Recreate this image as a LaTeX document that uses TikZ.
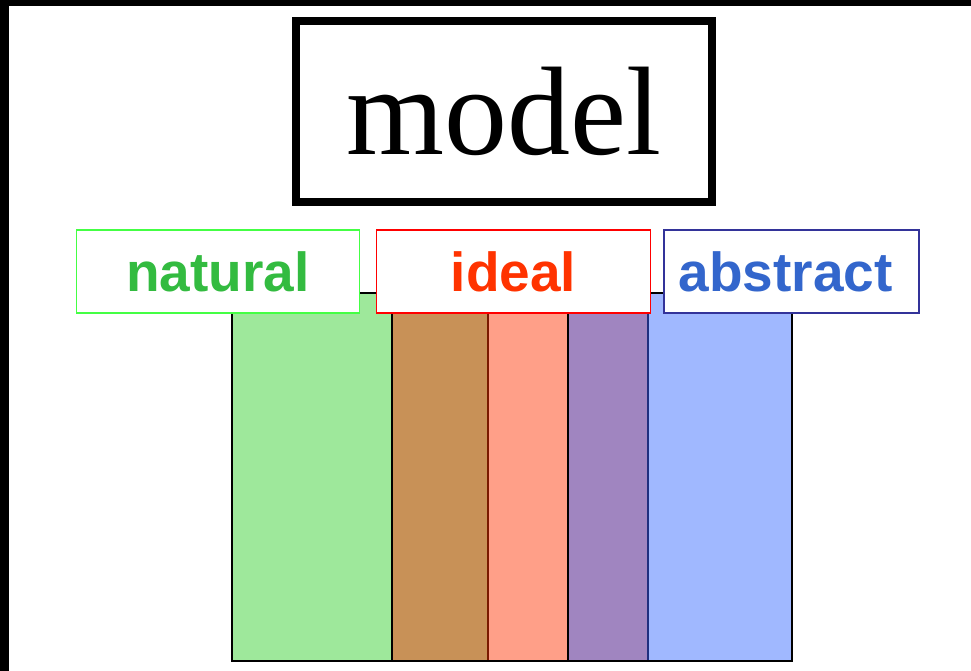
\documentclass[tikz,border=0pt]{standalone}
\usepackage{fontspec}
\setmainfont{Liberation Serif}
\setsansfont{Liberation Sans}
\usetikzlibrary{positioning}

\definecolor{natline}{RGB}{68,255,68}
\definecolor{nattext}{RGB}{51,187,64}
\definecolor{idline}{RGB}{255,0,0}
\definecolor{idtext}{RGB}{255,51,0}
\definecolor{absline}{RGB}{51,51,153}
\definecolor{abstext}{RGB}{51,102,204}
\definecolor{barA}{RGB}{158,232,155}
\definecolor{barB}{RGB}{200,145,87}
\definecolor{barC}{RGB}{255,159,136}
\definecolor{barD}{RGB}{160,133,192}
\definecolor{barE}{RGB}{160,184,255}
\definecolor{sepred}{RGB}{122,26,0}
\definecolor{sepblue}{RGB}{31,47,127}

\begin{document}
\begin{tikzpicture}[x=1pt,y=-1pt,
  tag/.style={draw, fill=white, line width=1.6pt, minimum height=83pt,
    inner sep=0pt, font=\sffamily\bfseries\fontsize{55}{60}\selectfont}]
\useasboundingbox (0,0) rectangle (971,671);

% frame edges
\fill[black] (0,0) rectangle (971,6);
\fill[black] (0,0) rectangle (9,671);

% title
\node[draw, line width=8pt, minimum width=416pt, minimum height=181pt,
  inner sep=0pt, font=\rmfamily\fontsize{126}{130}\selectfont]
  (model) at (504,111.5) {model};

% colour bars
\foreach \xa/\xb/\c in {232/392/barA, 392/488/barB, 488/568/barC,
                        568/648/barD, 648/792/barE} {
    \fill[\c] (\xa,293) rectangle (\xb,660.5);
}
\foreach \xs/\c in {392/black, 488/sepred, 568/black, 648/sepblue} {
    \draw[\c, line width=1.6pt] (\xs,293) -- (\xs,660.5);
}
\draw[line width=2pt] (232,293) rectangle (792,660.5);

% labels
\node[tag, draw=natline, text=nattext, minimum width=283pt]
  (natural) at (218,271.4) {natural};
\node[tag, draw=idline, text=idtext, minimum width=274pt]
  (ideal) at (513.4,271.4) {ideal};
\node[tag, draw=absline, text=abstext, minimum width=255pt]
  (abstract) at (791.7,271.4) {abstract\hspace*{12pt}};
\end{tikzpicture}
\end{document}
